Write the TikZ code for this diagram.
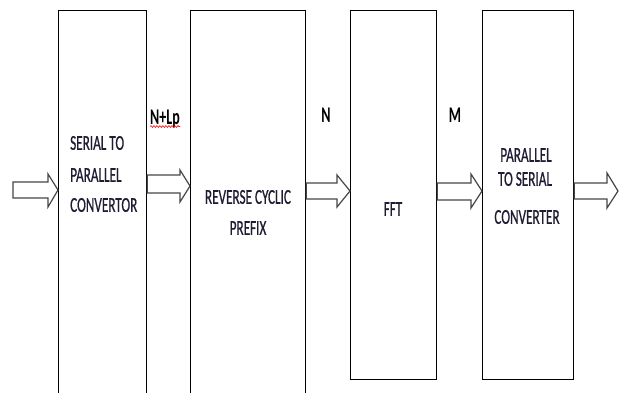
\documentclass[tikz,border=0pt]{standalone}
\usepackage{fontspec}
\setmainfont{Carlito}
\newfontfamily\boxfont[FakeBold=0.9]{Carlito}
\usetikzlibrary{calc,decorations.pathmorphing}
\definecolor{txt}{RGB}{30,28,50}
\definecolor{arrc}{RGB}{70,70,70}
\newcommand\barr[8]{% start, end, shaft top, shaft bottom, head top, head bottom, tip y, head length
  \draw[arr] (#1 |- 0,#3) -- ($(#2 |- 0,#3)+(-#8,0)$) -- ($(#2 |- 0,#5)+(-#8,0)$)
    -- (#2 |- 0,#7) -- ($(#2 |- 0,#6)+(-#8,0)$) -- ($(#2 |- 0,#4)+(-#8,0)$) -- (#1 |- 0,#4) -- cycle;}
\begin{document}
\begin{tikzpicture}[x=1pt,y=-1pt,
  blk/.style={draw=black, line width=1.3pt, rectangle, inner sep=0pt, anchor=north west},
  arr/.style={draw=arrc, line width=1.2pt, line join=miter},
  lbl/.style={inner sep=0pt, text=txt, font=\boxfont\fontsize{13.2}{16}\selectfont},
  bl/.style={inner sep=0pt, text=black, font=\fontsize{14}{16}\selectfont\bfseries}]
\clip (0,0) rectangle (620,392);
\fill[white] (0,0) rectangle (620,392);
% blocks
\node[blk, minimum width=88pt, minimum height=420pt] (sp) at (58,10) {};
\node[blk, minimum width=115pt, minimum height=420pt] (rcp) at (190,10) {};
\node[blk, minimum width=86pt, minimum height=369pt] (fft) at (350,10) {};
\node[blk, minimum width=91pt, minimum height=369pt] (ps) at (482,10) {};
% block texts
\node[lbl, anchor=west] (t1) at (70,143) {\scalebox{1}[1.6]{SERIAL TO}};
\node[lbl, anchor=west] (t2) at (70,175) {\scalebox{1}[1.6]{PARALLEL}};
\node[lbl, anchor=west] (t3) at (70,205) {\scalebox{1}[1.6]{CONVERTOR}};
\node[lbl] (t4) at (248,197) {\scalebox{1}[1.6]{REVERSE CYCLIC}};
\node[lbl] (t5) at (248,228) {\scalebox{1}[1.6]{PREFIX}};
\node[lbl] (t6) at (393,209) {\scalebox{1}[1.6]{FFT}};
\node[lbl] (t7) at (526,155) {\scalebox{1}[1.6]{PARALLEL}};
\node[lbl] (t8) at (525,179) {\scalebox{1}[1.6]{TO SERIAL}};
\node[lbl] (t9) at (527,217) {\scalebox{1}[1.6]{CONVERTER}};
% width labels
\node[bl, anchor=base west] (nlp) at (150,124) {\scalebox{1}[1.6]{N+Lp}};
\node[bl, anchor=base] (n) at (326,122) {\scalebox{1}[1.6]{N}};
\node[bl, anchor=base] (m) at (455,122) {\scalebox{1}[1.6]{M}};
\draw[red, line width=0.6pt, decorate, decoration={snake, amplitude=0.9pt, segment length=3pt}]
  ($(nlp.base west)+(0,2.5)$) -- ($(nlp.base east)+(0,2.5)$);
% arrows
\coordinate (in) at (13,190);
\coordinate (out) at (618,191);
\barr{in}{sp.west}{182}{198}{174}{207}{190}{10}
\barr{sp.east}{rcp.west}{175}{193}{170}{202}{186}{10}
\barr{rcp.east}{fft.west}{183}{199}{175}{207}{191}{13}
\barr{fft.east}{ps.west}{183}{200}{174}{208}{191}{11}
\barr{ps.east}{out}{183}{199}{173}{208}{191}{11}
\end{tikzpicture}
\end{document}
